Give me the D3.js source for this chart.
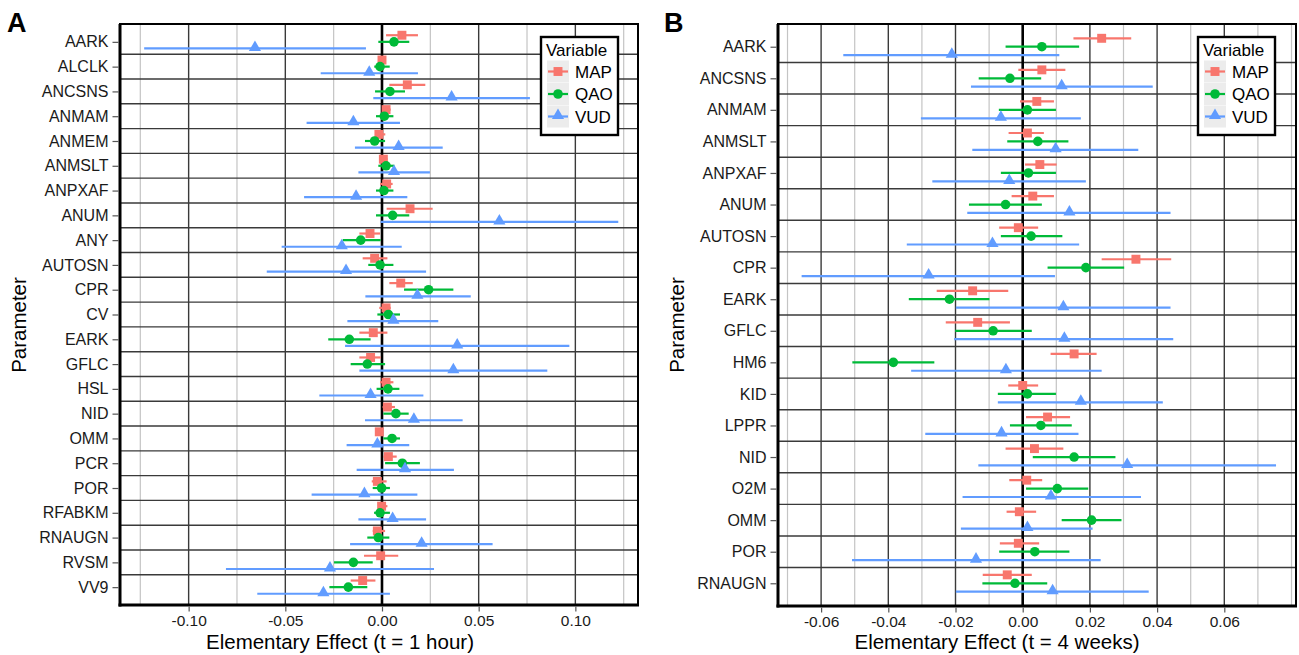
<!DOCTYPE html>
<html>
<head>
<meta charset="utf-8">
<script src="https://cdn.jsdelivr.net/npm/d3@7"></script>
<style>
  html, body { margin: 0; padding: 0; background: #fff; }
  svg { display: block; font-family: "Liberation Sans", Arial, Helvetica, sans-serif; }
</style>
</head>
<body>
<svg id="chart" width="1299" height="655"></svg>
<script>
// Elementary effects (Morris screening) for three output variables.
// Each entry: [mean effect, lower bound, upper bound]
const seriesNames = ["MAP", "QAO", "VUD"];
const seriesColors = ["#F8766D", "#00BA38", "#619CFF"];

// Panel A: t = 1 hour
const paramsA = ["AARK", "ALCLK", "ANCSNS", "ANMAM", "ANMEM", "ANMSLT", "ANPXAF", "ANUM",
  "ANY", "AUTOSN", "CPR", "CV", "EARK", "GFLC", "HSL", "NID", "OMM", "PCR", "POR",
  "RFABKM", "RNAUGN", "RVSM", "VV9"];
const mapA = [
  [0.0103, 0.0021, 0.0186], [0.0000, -0.0020, 0.0020], [0.0131, 0.0038, 0.0224],
  [0.0021, 0.0000, 0.0045], [-0.0016, -0.0031, 0.0017], [0.0007, -0.0014, 0.0028],
  [0.0024, -0.0010, 0.0055], [0.0145, 0.0024, 0.0262], [-0.0062, -0.0117, -0.0010],
  [-0.0038, -0.0100, 0.0028], [0.0097, 0.0038, 0.0159], [0.0021, -0.0014, 0.0045],
  [-0.0045, -0.0117, 0.0028], [-0.0059, -0.0117, -0.0007], [0.0021, -0.0010, 0.0059],
  [0.0028, 0.0003, 0.0067], [-0.0014, -0.0031, 0.0007], [0.0033, 0.0007, 0.0076],
  [-0.0024, -0.0053, 0.0024], [-0.0002, -0.0019, 0.0028], [-0.0024, -0.0048, 0.0016],
  [-0.0007, -0.0093, 0.0084], [-0.0100, -0.0162, -0.0034]
];
const qaoA = [
  [0.0062, -0.0019, 0.0141], [-0.0010, -0.0040, 0.0040], [0.0041, -0.0036, 0.0119],
  [0.0012, -0.0031, 0.0059], [-0.0038, -0.0088, 0.0016], [0.0021, -0.0019, 0.0064],
  [0.0010, -0.0031, 0.0059], [0.0055, -0.0031, 0.0141], [-0.0110, -0.0203, -0.0007],
  [-0.0010, -0.0071, 0.0059], [0.0241, 0.0114, 0.0369], [0.0033, -0.0024, 0.0093],
  [-0.0169, -0.0278, -0.0059], [-0.0076, -0.0162, 0.0016], [0.0031, -0.0028, 0.0090],
  [0.0072, 0.0007, 0.0138], [0.0052, 0.0007, 0.0093], [0.0105, 0.0016, 0.0196],
  [-0.0002, -0.0048, 0.0041], [-0.0010, -0.0041, 0.0041], [-0.0019, -0.0076, 0.0038],
  [-0.0148, -0.0248, -0.0048], [-0.0174, -0.0272, -0.0076]
];
const vudA = [
  [-0.0657, -0.1230, -0.0083], [-0.0066, -0.0317, 0.0186], [0.0360, -0.0045, 0.0765],
  [-0.0148, -0.0390, 0.0093], [0.0086, -0.0140, 0.0314], [0.0062, -0.0122, 0.0248],
  [-0.0134, -0.0403, 0.0131], [0.0607, -0.0007, 0.1222], [-0.0208, -0.0519, 0.0102],
  [-0.0186, -0.0596, 0.0228], [0.0183, -0.0086, 0.0459], [0.0059, -0.0179, 0.0291],
  [0.0389, -0.0191, 0.0969], [0.0369, -0.0117, 0.0855], [-0.0059, -0.0324, 0.0214],
  [0.0165, -0.0088, 0.0417], [-0.0024, -0.0183, 0.0141], [0.0119, -0.0131, 0.0372],
  [-0.0091, -0.0364, 0.0183], [0.0055, -0.0122, 0.0228], [0.0205, -0.0165, 0.0572],
  [-0.0269, -0.0807, 0.0269], [-0.0303, -0.0645, 0.0041]
];
const ticksA = [-0.10, -0.05, 0.00, 0.05, 0.10];
const minorTicksA = [-0.125, -0.075, -0.025, 0.025, 0.075, 0.125];

// Panel B: t = 4 weeks
const paramsB = ["AARK", "ANCSNS", "ANMAM", "ANMSLT", "ANPXAF", "ANUM", "AUTOSN", "CPR",
  "EARK", "GFLC", "HM6", "KID", "LPPR", "NID", "O2M", "OMM", "POR", "RNAUGN"];
const mapB = [
  [0.0235, 0.0151, 0.0323], [0.0057, -0.0013, 0.0127], [0.0042, -0.0008, 0.0093],
  [0.0014, -0.0042, 0.0063], [0.0051, 0.0007, 0.0101], [0.0030, -0.0033, 0.0093],
  [-0.0013, -0.0070, 0.0046], [0.0337, 0.0235, 0.0442], [-0.0149, -0.0256, -0.0043],
  [-0.0134, -0.0229, -0.0038], [0.0153, 0.0083, 0.0220], [0.0000, -0.0043, 0.0046],
  [0.0074, 0.0010, 0.0141], [0.0035, -0.0051, 0.0121], [0.0012, -0.0040, 0.0058],
  [-0.0010, -0.0048, 0.0040], [-0.0013, -0.0068, 0.0049], [-0.0046, -0.0119, 0.0027]
];
const qaoB = [
  [0.0057, -0.0051, 0.0168], [-0.0038, -0.0131, 0.0055], [0.0014, -0.0071, 0.0099],
  [0.0045, -0.0046, 0.0136], [0.0017, -0.0065, 0.0099], [-0.0051, -0.0160, 0.0057],
  [0.0025, -0.0065, 0.0118], [0.0188, 0.0074, 0.0302], [-0.0218, -0.0339, -0.0099],
  [-0.0088, -0.0201, 0.0027], [-0.0385, -0.0507, -0.0263], [0.0014, -0.0074, 0.0099],
  [0.0054, -0.0038, 0.0146], [0.0153, 0.0030, 0.0276], [0.0103, 0.0010, 0.0195],
  [0.0205, 0.0116, 0.0294], [0.0036, -0.0070, 0.0139], [-0.0023, -0.0120, 0.0073]
];
const vudB = [
  [-0.0211, -0.0534, 0.0109], [0.0116, -0.0154, 0.0387], [-0.0065, -0.0303, 0.0173],
  [0.0098, -0.0150, 0.0344], [-0.0040, -0.0269, 0.0188], [0.0139, -0.0165, 0.0440],
  [-0.0090, -0.0345, 0.0168], [-0.0280, -0.0658, 0.0096], [0.0121, -0.0199, 0.0440],
  [0.0124, -0.0204, 0.0448], [-0.0050, -0.0332, 0.0235], [0.0173, -0.0074, 0.0417],
  [-0.0063, -0.0290, 0.0166], [0.0311, -0.0132, 0.0754], [0.0084, -0.0179, 0.0352],
  [0.0014, -0.0184, 0.0208], [-0.0139, -0.0508, 0.0232], [0.0089, -0.0199, 0.0375]
];
const ticksB = [-0.06, -0.04, -0.02, 0.00, 0.02, 0.04, 0.06];
const minorTicksB = [-0.07, -0.05, -0.03, -0.01, 0.01, 0.03, 0.05, 0.07, 0.08];

const svg = d3.select("#chart");

function drawPanel(cfg) {
  const { left, right, top, bottom, domain, params, series, ticks, minor, tag, tagX, xTitle, xTitleX, legendX } = cfg;
  const g = svg.append("g");
  const x = d3.scaleLinear().domain(domain).range([left, right]);
  const y = d3.scalePoint().domain(params).range([top, bottom]).padding(0.72);
  const step = y.step();
  const dodge = d3.scalePoint().domain(seriesNames).range([-0.267 * step, 0.267 * step]);

  // panel background
  g.append("rect").attr("x", left).attr("y", top).attr("width", right - left).attr("height", bottom - top)
    .attr("fill", "#fff");

  // minor vertical grid
  g.selectAll(".minor").data(minor.filter(v => x(v) > left && x(v) < right)).join("line")
    .attr("x1", d => x(d)).attr("x2", d => x(d)).attr("y1", top).attr("y2", bottom)
    .attr("stroke", "#c4c4c4").attr("stroke-width", 1.2);
  // major vertical grid
  g.selectAll(".major").data(ticks.filter(v => v !== 0)).join("line")
    .attr("x1", d => x(d)).attr("x2", d => x(d)).attr("y1", top).attr("y2", bottom)
    .attr("stroke", "#3a3a3a").attr("stroke-width", 1.4);
  // separators between parameters
  const seps = params.slice(0, -1).map((p, i) => (y(p) + y(params[i + 1])) / 2);
  g.selectAll(".sep").data(seps).join("line")
    .attr("x1", left).attr("x2", right).attr("y1", d => d).attr("y2", d => d)
    .attr("stroke", "#3a3a3a").attr("stroke-width", 1.4);
  // zero reference
  g.append("line").attr("x1", x(0)).attr("x2", x(0)).attr("y1", top).attr("y2", bottom)
    .attr("stroke", "#000").attr("stroke-width", 2.6);

  // error bars and points
  seriesNames.forEach((name, si) => {
    const color = seriesColors[si];
    const rows = series[si].map((v, i) => ({ p: params[i], m: v[0], lo: v[1], hi: v[2] }));
    const sg = g.append("g");
    sg.selectAll("line").data(rows).join("line")
      .attr("x1", d => x(d.lo)).attr("x2", d => x(d.hi))
      .attr("y1", d => y(d.p) + dodge(name)).attr("y2", d => y(d.p) + dodge(name))
      .attr("stroke", color).attr("stroke-width", 2.2);
    const sym = [d3.symbolSquare, d3.symbolCircle, d3.symbolTriangle][si];
    const size = [80, 72, 64][si];
    sg.selectAll("path").data(rows).join("path")
      .attr("d", d3.symbol(sym, size))
      .attr("transform", d => `translate(${x(d.m)},${y(d.p) + dodge(name) + (si === 2 ? -1 : 0)})`)
      .attr("fill", color);
  });

  // frame
  g.append("rect").attr("x", left).attr("y", top).attr("width", right - left).attr("height", bottom - top)
    .attr("fill", "none").attr("stroke", "#000").attr("stroke-width", 2);
  g.append("line").attr("x1", left).attr("x2", left).attr("y1", top).attr("y2", bottom + 1.5)
    .attr("stroke", "#000").attr("stroke-width", 3);
  g.append("line").attr("x1", left - 1.5).attr("x2", right + 1).attr("y1", bottom).attr("y2", bottom)
    .attr("stroke", "#000").attr("stroke-width", 3);

  // y axis
  const yAxis = d3.axisLeft(y).tickSize(6).tickPadding(4);
  const ya = g.append("g").attr("transform", `translate(${left - 1.5},0)`).call(yAxis);
  ya.select(".domain").remove();
  ya.selectAll(".tick line").attr("stroke", "#555").attr("stroke-width", 1.2);
  ya.selectAll(".tick text").attr("fill", "#1a1a1a").style("font-size", "16px")
    .style("font-family", "'Liberation Sans', Arial, sans-serif");

  // x axis
  const xAxis = d3.axisBottom(x).tickValues(ticks).tickSize(5).tickPadding(3.5);
  const xa = g.append("g").attr("transform", `translate(0,${bottom + 1.5})`).call(xAxis);
  xa.select(".domain").remove();
  xa.selectAll(".tick line").attr("stroke", "#555").attr("stroke-width", 1.2);
  xa.selectAll(".tick text").attr("fill", "#1a1a1a").style("font-size", "15.5px")
    .style("font-family", "'Liberation Sans', Arial, sans-serif")
    .text(d => d3.format(".2f")(d).replace("\u2212", "-"));

  // axis titles
  g.append("text").attr("x", xTitleX).attr("y", 649).attr("text-anchor", "middle")
    .attr("font-size", 20.5).attr("fill", "#000").text(xTitle);
  g.append("text").attr("transform", `translate(${left - 94},325) rotate(-90)`)
    .attr("text-anchor", "middle").attr("font-size", 20.5).attr("fill", "#000").text("Parameter");

  // panel tag
  g.append("text").attr("x", tagX).attr("y", 32).attr("font-size", 27).attr("font-weight", "bold")
    .attr("fill", "#000").text(tag);

  // legend
  const lg = g.append("g").attr("transform", `translate(${legendX},37)`);
  lg.append("rect").attr("x", 0).attr("y", 0).attr("width", 77).attr("height", 98)
    .attr("fill", "#fff").attr("stroke", "#000").attr("stroke-width", 2.4);
  lg.append("text").attr("x", 5).attr("y", 19).attr("font-size", 17).attr("fill", "#000").text("Variable");
  seriesNames.forEach((name, si) => {
    const cy = 34.5 + si * 22.5;
    const kg = lg.append("g");
    kg.append("rect").attr("x", 6).attr("y", cy - 11).attr("width", 22).attr("height", 22).attr("fill", "#ececec");
    kg.append("line").attr("x1", 7).attr("x2", 27).attr("y1", cy).attr("y2", cy)
      .attr("stroke", seriesColors[si]).attr("stroke-width", 2.2);
    const sym = [d3.symbolSquare, d3.symbolCircle, d3.symbolTriangle][si];
    const size = [80, 72, 64][si];
    kg.append("path").attr("d", d3.symbol(sym, size))
      .attr("transform", `translate(17,${cy + (si === 2 ? -1 : 0)})`).attr("fill", seriesColors[si]);
    kg.append("text").attr("x", 34).attr("y", cy + 6).attr("font-size", 17).attr("fill", "#000").text(name);
  });
}

drawPanel({
  left: 120, right: 638, top: 24, bottom: 605,
  domain: [-0.1355, 0.1324], params: paramsA, series: [mapA, qaoA, vudA],
  ticks: ticksA, minor: minorTicksA, tag: "A", tagX: 7,
  xTitle: "Elementary Effect (t = 1 hour)", xTitleX: 340, legendX: 541
});
drawPanel({
  left: 778, right: 1296, top: 24, bottom: 606,
  domain: [-0.07283, 0.08134], params: paramsB, series: [mapB, qaoB, vudB],
  ticks: ticksB, minor: minorTicksB, tag: "B", tagX: 664,
  xTitle: "Elementary Effect (t = 4 weeks)", xTitleX: 997, legendX: 1198
});
</script>
</body>
</html>
